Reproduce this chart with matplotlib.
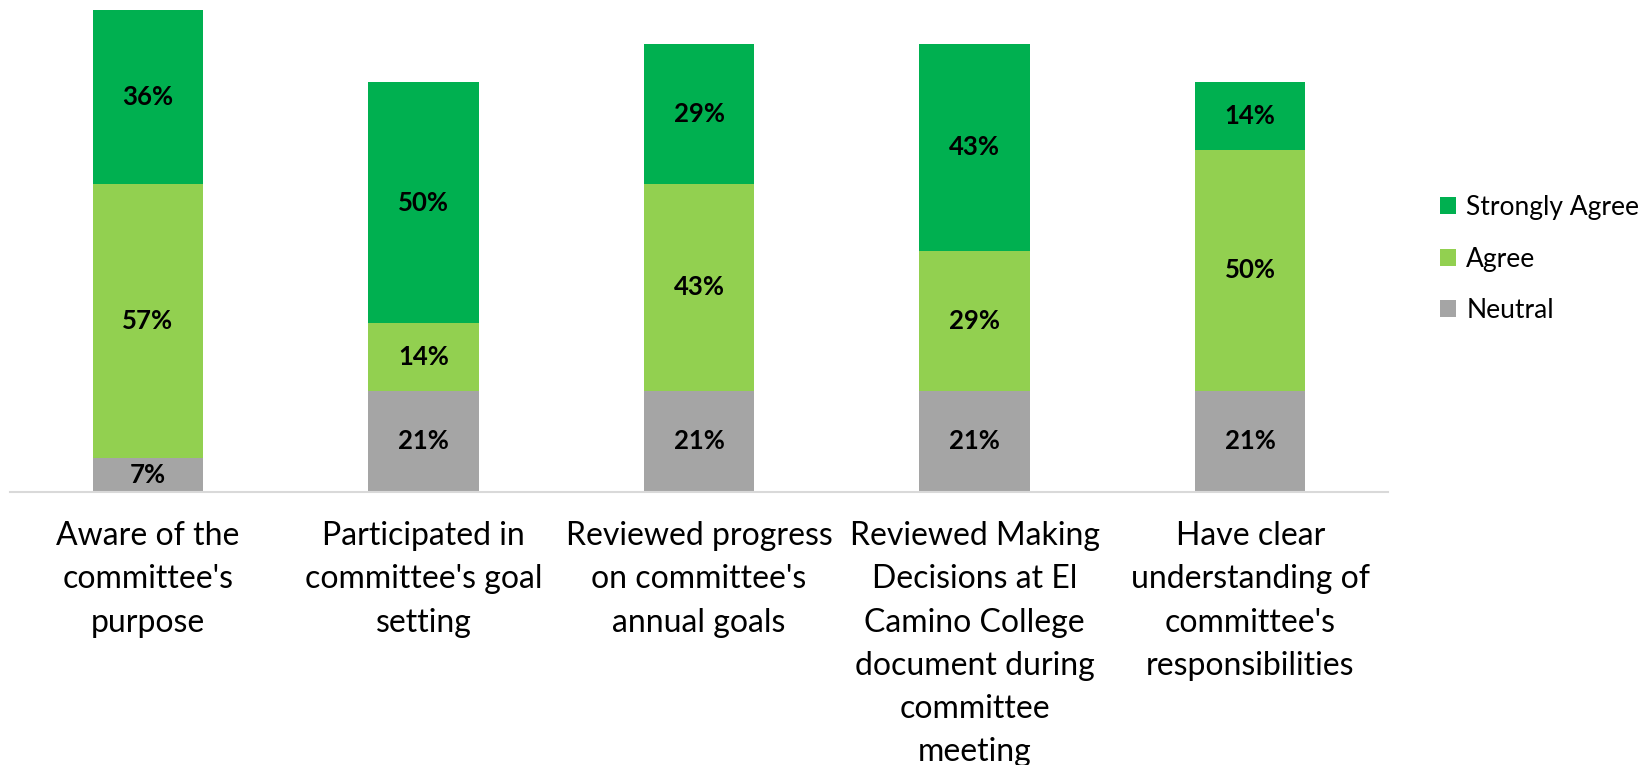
import numpy as np
import matplotlib.pyplot as plt

plt.rcParams['font.family'] = ['Lato', 'DejaVu Sans']

categories = ["Aware of the\ncommittee's\npurpose",
              "Participated in\ncommittee's goal\nsetting",
              "Reviewed progress\non committee's\nannual goals",
              "Reviewed Making\nDecisions at El\nCamino College\ndocument during\ncommittee\nmeeting",
              "Have clear\nunderstanding of\ncommittee's\nresponsibilities"]
neutral = [7, 21, 21, 21, 21]
agree = [57, 14, 43, 29, 50]
strongly = [36, 50, 29, 43, 14]

c_neutral = '#A5A5A5'
c_agree = '#92D050'
c_strong = '#00B050'

fig = plt.figure(figsize=(16.51, 7.65), dpi=100)
ax = fig.add_axes([10/1651, 1 - 492/765, 1378/1651, 482/765])

x = np.arange(len(categories))
w = 0.4
b1 = ax.bar(x, neutral, w, color=c_neutral, label='Neutral')
b2 = ax.bar(x, agree, w, bottom=neutral, color=c_agree, label='Agree')
bot = np.array(neutral) + np.array(agree)
b3 = ax.bar(x, strongly, w, bottom=bot, color=c_strong, label='Strongly Agree')

for bars in (b1, b2, b3):
    ax.bar_label(bars, labels=['%d%%' % v for v in bars.datavalues],
                 label_type='center', fontsize=18.5, fontweight='bold', color='black')

ax.set_xlim(-0.5, 4.5)
ax.set_ylim(0, 100)
ax.set_yticks([])
ax.set_xticks(x)
ax.set_xticklabels(categories, fontsize=23, linespacing=1.55, va='top')
ax.tick_params(axis='x', length=0, pad=21)
for s in ['top', 'right', 'left']:
    ax.spines[s].set_visible(False)
ax.spines['bottom'].set_color('#D9D9D9')
ax.spines['bottom'].set_linewidth(1.5)

handles = [b3, b2, b1]
fig.legend(handles, ['Strongly Agree', 'Agree', 'Neutral'], loc='center left',
           bbox_to_anchor=(1416/1651, 1 - 259/765), frameon=False, fontsize=19,
           handlelength=0.6, handleheight=0.6, labelspacing=1.0, handletextpad=0.4)

fig.savefig('out.png', dpi=100)
